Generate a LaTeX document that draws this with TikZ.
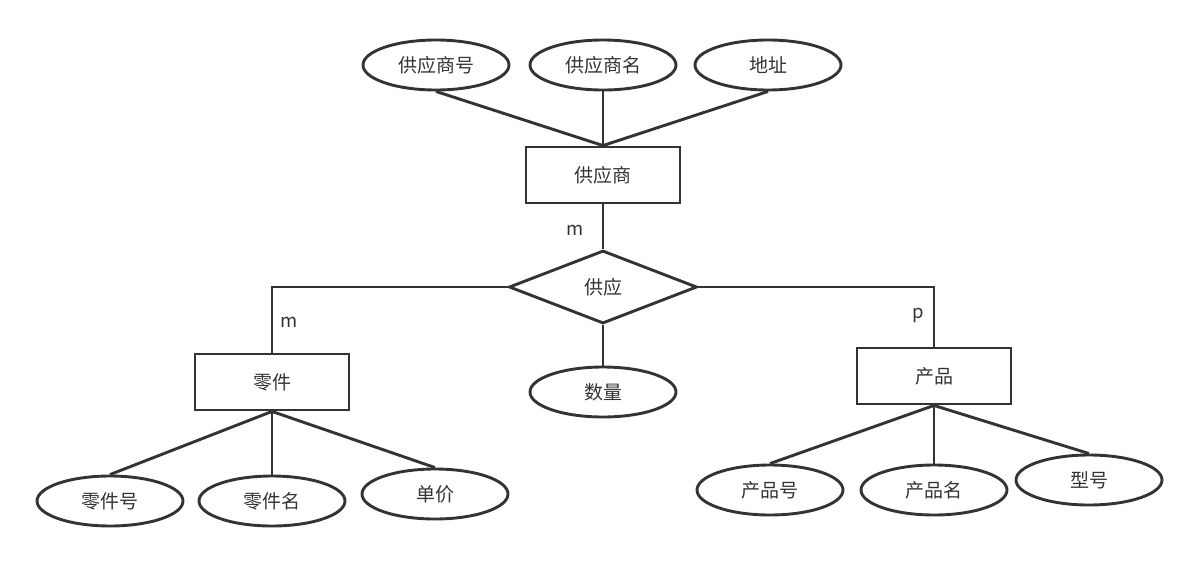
\documentclass[tikz,border=0pt]{standalone}
\usepackage{fontspec}
\setmainfont{Noto Sans CJK SC}
\usetikzlibrary{shapes.geometric}
\definecolor{ink}{HTML}{333333}
\tikzset{
  base/.style={draw=ink, line width=2.9pt, text=ink, font=\fontsize{19}{21}\selectfont, inner sep=0pt},
  attr/.style={base, ellipse, minimum width=146pt, minimum height=50pt},
  ent/.style={base, rectangle, minimum width=154pt, minimum height=56pt},
  rel/.style={base, diamond, aspect=2.57, minimum width=188pt, minimum height=73pt},
  conn/.style={draw=ink, line width=2.9pt},
  card/.style={text=ink, font=\fontsize{18.5}{20}\selectfont, inner sep=0pt}
}
\begin{document}
\begin{tikzpicture}[x=1pt,y=-1pt]
\useasboundingbox (0,0) rectangle (1200,563);
% nodes
\node[attr] (s1) at (436,65) {供应商号};
\node[attr] (s2) at (603,65) {供应商名};
\node[attr] (s3) at (768,65) {地址};
\node[ent] (sup) at (603,175) {供应商};
\node[rel] (gy) at (603,287) {供应};
\node[ent] (part) at (272,382) {零件};
\node[attr] (qty) at (603,392) {数量};
\node[ent] (prod) at (934,376) {产品};
\node[attr] (p1) at (110,501) {零件号};
\node[attr] (p2) at (272,501) {零件名};
\node[attr] (p3) at (435,494) {单价};
\node[attr] (q1) at (770,490) {产品号};
\node[attr] (q2) at (934,490) {产品名};
\node[attr] (q3) at (1089,480) {型号};
% connectors
\draw[conn] (s1.south) -- (sup.north);
\draw[conn] (s2.south) -- (sup.north);
\draw[conn] (s3.south) -- (sup.north);
\draw[conn] (sup.south) -- (gy.north);
\draw[conn] (gy.west) -| (part.north);
\draw[conn] (gy.east) -| (prod.north);
\draw[conn] (gy.south) -- (qty.north);
\draw[conn] (part.south) -- (p1.north);
\draw[conn] (part.south) -- (p2.north);
\draw[conn] (part.south) -- (p3.north);
\draw[conn] (prod.south) -- (q1.north);
\draw[conn] (prod.south) -- (q2.north);
\draw[conn] (prod.south) -- (q3.north);
% cardinalities
\node[card] (c1) at (575,230) {m};
\node[card] (c2) at (289,322) {m};
\node[card] (c3) at (918,315) {p};
\end{tikzpicture}
\end{document}
